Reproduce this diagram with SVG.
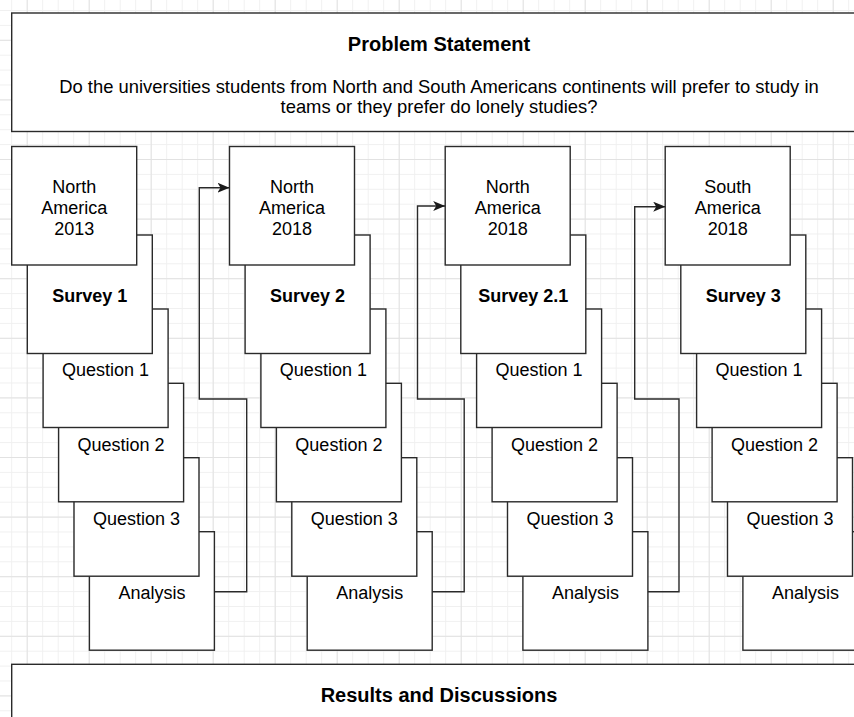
<svg xmlns="http://www.w3.org/2000/svg" width="854" height="717" viewBox="0 0 854 717">
<style>
.box{fill:#fff;stroke:#2a2a2a;stroke-width:1.4}
.lbl{font-family:"Liberation Sans",Arial,Helvetica,sans-serif;font-size:18px;fill:#000;text-anchor:middle}
.b{font-weight:bold}
.ttl{font-family:"Liberation Sans",Arial,Helvetica,sans-serif;font-size:20px;font-weight:bold;fill:#000;text-anchor:middle}
.body{font-family:"Liberation Sans",Arial,Helvetica,sans-serif;font-size:18.4px;fill:#000;text-anchor:middle}
.edge{fill:none;stroke:#2a2a2a;stroke-width:1.4;marker-end:url(#arr)}
</style>
<defs>
<pattern id="gmin" x="11.2" y="10" width="15.5" height="14.9" patternUnits="userSpaceOnUse">
<path d="M0 0.5H15.5M0.5 0V14.9" stroke="#f0f0f0" stroke-width="1" fill="none"/>
</pattern>
<pattern id="gmaj" x="26.7" y="39.8" width="62" height="59.6" patternUnits="userSpaceOnUse">
<path d="M0 0.5H62M0.5 0V59.6" stroke="#e2e2e2" stroke-width="1" fill="none"/>
</pattern>
<marker id="arr" viewBox="0 0 12 10" refX="12" refY="5" markerWidth="12" markerHeight="10" markerUnits="userSpaceOnUse" orient="auto">
<path d="M0,0 L12,5 L0,10 L3,5 Z" fill="#1a1a1a"/>
</marker>
</defs>
<rect width="854" height="717" fill="#fff"/>
<rect width="854" height="717" fill="url(#gmin)"/>
<rect width="854" height="717" fill="url(#gmaj)"/>

<g id="problem-statement">
<rect class="box" x="11.7" y="13" width="860" height="118.5"/>
<text class="ttl" x="439" y="51">Problem Statement</text>
<text class="body" x="439" y="92.5">Do the universities students from North and South Americans continents will prefer to study in</text>
<text class="body" x="439" y="112.5">teams or they prefer do lonely studies?</text>
</g>

<g id="column-1">
<g id="c1-analysis"><rect class="box" x="89.4" y="531.7" width="125" height="118.5"/><text class="lbl" x="151.9" y="599">Analysis</text></g>
<g id="c1-q3"><rect class="box" x="74" y="457.7" width="125" height="118.5"/><text class="lbl" x="136.5" y="524.5">Question 3</text></g>
<g id="c1-q2"><rect class="box" x="58.6" y="383.3" width="125" height="118.5"/><text class="lbl" x="121.1" y="450.5">Question 2</text></g>
<g id="c1-q1"><rect class="box" x="43.1" y="309" width="125" height="118.5"/><text class="lbl" x="105.6" y="376.3">Question 1</text></g>
<g id="c1-survey"><rect class="box" x="27.3" y="235" width="125" height="118.5"/><text class="lbl b" x="89.8" y="302">Survey 1</text></g>
<g id="c1-region"><rect class="box" x="11.7" y="146.5" width="125" height="118.5"/><text class="lbl" x="74.2" y="193">North</text><text class="lbl" x="74.2" y="214.3">America</text><text class="lbl" x="74.2" y="235">2013</text></g>
</g>

<g id="column-2" transform="translate(217.8,0)">
<g id="c2-analysis"><rect class="box" x="89.4" y="531.7" width="125" height="118.5"/><text class="lbl" x="151.9" y="599">Analysis</text></g>
<g id="c2-q3"><rect class="box" x="74" y="457.7" width="125" height="118.5"/><text class="lbl" x="136.5" y="524.5">Question 3</text></g>
<g id="c2-q2"><rect class="box" x="58.6" y="383.3" width="125" height="118.5"/><text class="lbl" x="121.1" y="450.5">Question 2</text></g>
<g id="c2-q1"><rect class="box" x="43.1" y="309" width="125" height="118.5"/><text class="lbl" x="105.6" y="376.3">Question 1</text></g>
<g id="c2-survey"><rect class="box" x="27.3" y="235" width="125" height="118.5"/><text class="lbl b" x="89.8" y="302">Survey 2</text></g>
<g id="c2-region"><rect class="box" x="11.7" y="146.5" width="125" height="118.5"/><text class="lbl" x="74.2" y="193">North</text><text class="lbl" x="74.2" y="214.3">America</text><text class="lbl" x="74.2" y="235">2018</text></g>
</g>

<g id="column-3" transform="translate(433.5,0)">
<g id="c3-analysis"><rect class="box" x="89.4" y="531.7" width="125" height="118.5"/><text class="lbl" x="151.9" y="599">Analysis</text></g>
<g id="c3-q3"><rect class="box" x="74" y="457.7" width="125" height="118.5"/><text class="lbl" x="136.5" y="524.5">Question 3</text></g>
<g id="c3-q2"><rect class="box" x="58.6" y="383.3" width="125" height="118.5"/><text class="lbl" x="121.1" y="450.5">Question 2</text></g>
<g id="c3-q1"><rect class="box" x="43.1" y="309" width="125" height="118.5"/><text class="lbl" x="105.6" y="376.3">Question 1</text></g>
<g id="c3-survey"><rect class="box" x="27.3" y="235" width="125" height="118.5"/><text class="lbl b" x="89.8" y="302">Survey 2.1</text></g>
<g id="c3-region"><rect class="box" x="11.7" y="146.5" width="125" height="118.5"/><text class="lbl" x="74.2" y="193">North</text><text class="lbl" x="74.2" y="214.3">America</text><text class="lbl" x="74.2" y="235">2018</text></g>
</g>

<g id="column-4" transform="translate(653.5,0)">
<g id="c4-analysis"><rect class="box" x="89.4" y="531.7" width="125" height="118.5"/><text class="lbl" x="151.9" y="599">Analysis</text></g>
<g id="c4-q3"><rect class="box" x="74" y="457.7" width="125" height="118.5"/><text class="lbl" x="136.5" y="524.5">Question 3</text></g>
<g id="c4-q2"><rect class="box" x="58.6" y="383.3" width="125" height="118.5"/><text class="lbl" x="121.1" y="450.5">Question 2</text></g>
<g id="c4-q1"><rect class="box" x="43.1" y="309" width="125" height="118.5"/><text class="lbl" x="105.6" y="376.3">Question 1</text></g>
<g id="c4-survey"><rect class="box" x="27.3" y="235" width="125" height="118.5"/><text class="lbl b" x="89.8" y="302">Survey 3</text></g>
<g id="c4-region"><rect class="box" x="11.7" y="146.5" width="125" height="118.5"/><text class="lbl" x="74.2" y="193">South</text><text class="lbl" x="74.2" y="214.3">America</text><text class="lbl" x="74.2" y="235">2018</text></g>
</g>

<g id="connectors">
<path class="edge" d="M214.4 591.7H246.7V399H199.3V187.7H229.5"/>
<path class="edge" d="M432.2 591.7H464.2V399H417.5V206H445.2"/>
<path class="edge" d="M647.9 591.7H679V399H634.7V206.7H665.2"/>
</g>

<g id="results">
<rect class="box" x="11.7" y="664.3" width="860" height="80"/>
<text class="ttl" x="439" y="701.5">Results and Discussions</text>
</g>
</svg>
